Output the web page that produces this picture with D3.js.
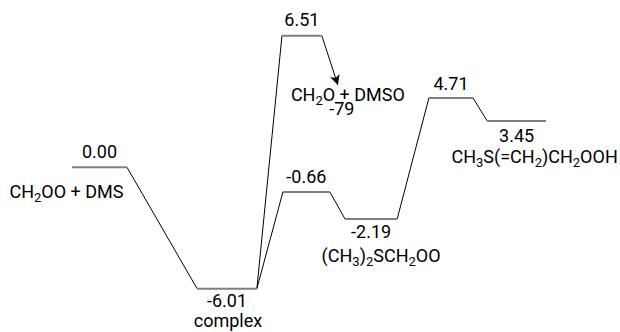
<!DOCTYPE html>
<html>
<head>
<meta charset="utf-8">
<script src="https://cdn.jsdelivr.net/npm/d3@7"></script>
<style>
  body { margin: 0; background: #fff; }
  text { font-family: Roboto, "Noto Sans", sans-serif; font-size: 18px; fill: #000; }
</style>
</head>
<body>
<div id="chart"></div>
<script>
// energy levels of the diagram (order: reactants, complex, TS1, TS2, adduct, TS3, product)
const levelIds = ["R", "complex", "TS1", "TS2", "INT", "TS3", "P"];
const energyLabels = ["0.00", "-6.01", "6.51", "-0.66", "-2.19", "4.71", "3.45"];
// drawn height of each level (diagram is not to scale)
const drawnLevel = [0, -6.01, 6.51, -1.22, -2.56, 3.43, 2.29];
// reaction coordinate where each level starts / ends
const rcStart = [0, 2.64, 4.43, 4.45, 5.76, 7.53, 8.76];
const rcEnd = [1.16, 3.9, 5.27, 5.44, 6.86, 8.46, 10];
const links = [[0, 1], [1, 2], [1, 3], [3, 4], [4, 5], [5, 6]];
// arrow from TS1 to the CH2O + DMSO channel
const arrowTarget = { rc: 5.61, level: 4.07 };
const species = [
  { level: 0, parts: [["CH"], ["2", "sub"], ["OO + DMS"]] },
  { level: 1, parts: [["complex"]] },
  { level: 2, parts: [["CH"], ["2", "sub"], ["O + DMSO"]] },
  { level: 2, parts: [["-79"]] },
  { level: 4, parts: [["(CH"], ["3", "sub"], [")"], ["2", "sub"], ["SCH"], ["2", "sub"], ["OO"]] },
  { level: 6, parts: [["CH"], ["3", "sub"], ["S(=CH"], ["2", "sub"], [")CH"], ["2", "sub"], ["OOH"]] },
];

const width = 620, height = 332;
const svg = d3.select("#chart").append("svg")
  .attr("width", width).attr("height", height);

const x = d3.scaleLinear().domain([0, 10]).range([72, 546]);
const y = d3.scaleLinear().domain([-6.01, 6.51]).range([288.7, 35.7]);

const lv = levelIds.map((id, i) => ({
  id, label: energyLabels[i], level: drawnLevel[i], x0: rcStart[i], x1: rcEnd[i]
}));

svg.append("defs").append("marker")
  .attr("id", "arrow")
  .attr("viewBox", "0 0 10 10")
  .attr("refX", 10).attr("refY", 5)
  .attr("markerWidth", 15).attr("markerHeight", 10)
  .attr("markerUnits", "userSpaceOnUse")
  .attr("orient", "auto")
  .append("path")
  .attr("d", "M0,0 L10,5 L0,10 L2.5,5 Z")
  .attr("fill", "#000");

// connectors
svg.selectAll("line.link")
  .data(links)
  .join("line")
  .attr("class", "link")
  .attr("x1", d => x(lv[d[0]].x1))
  .attr("y1", d => y(lv[d[0]].level))
  .attr("x2", d => x(lv[d[1]].x0))
  .attr("y2", d => y(lv[d[1]].level))
  .attr("stroke", "#000")
  .attr("stroke-width", 1);

svg.append("line")
  .attr("x1", x(lv[2].x1)).attr("y1", y(lv[2].level))
  .attr("x2", x(arrowTarget.rc)).attr("y2", y(arrowTarget.level))
  .attr("stroke", "#000")
  .attr("stroke-width", 1)
  .attr("marker-end", "url(#arrow)");

// levels
svg.selectAll("line.level")
  .data(lv)
  .join("line")
  .attr("class", "level")
  .attr("x1", d => x(d.x0))
  .attr("x2", d => x(d.x1))
  .attr("y1", d => y(d.level))
  .attr("y2", d => y(d.level))
  .attr("stroke", "#7f7f7f")
  .attr("stroke-width", 2);

// energy value labels (above or below the level)
const valueOffset = { R: -9, complex: 18, TS1: -10, TS2: -9, INT: 19, TS3: -8, P: 21 };
svg.selectAll("text.value")
  .data(lv)
  .join("text")
  .attr("class", "value")
  .attr("x", d => x((d.x0 + d.x1) / 2))
  .attr("y", d => y(d.level) + valueOffset[d.id])
  .attr("text-anchor", "middle")
  .text(d => d.label);

// species names
const speciesOffset = [[-33, 31], [1, 38], [46, 65], [40, 79], [10, 43], [18, 42]];
const sp = svg.selectAll("text.species")
  .data(species)
  .join("text")
  .attr("class", "species")
  .attr("x", (d, i) => x((lv[d.level].x0 + lv[d.level].x1) / 2) + speciesOffset[i][0])
  .attr("y", (d, i) => y(lv[d.level].level) + speciesOffset[i][1])
  .attr("text-anchor", "middle");

sp.each(function (d) {
  const t = d3.select(this);
  let shifted = false;
  d.parts.forEach(p => {
    const ts = t.append("tspan").text(p[0]);
    if (p[1] === "sub") {
      ts.attr("font-size", "13px").attr("dy", shifted ? 0 : 4);
      shifted = true;
    } else if (shifted) {
      ts.attr("dy", -4);
      shifted = false;
    }
  });
});
</script>
</body>
</html>
